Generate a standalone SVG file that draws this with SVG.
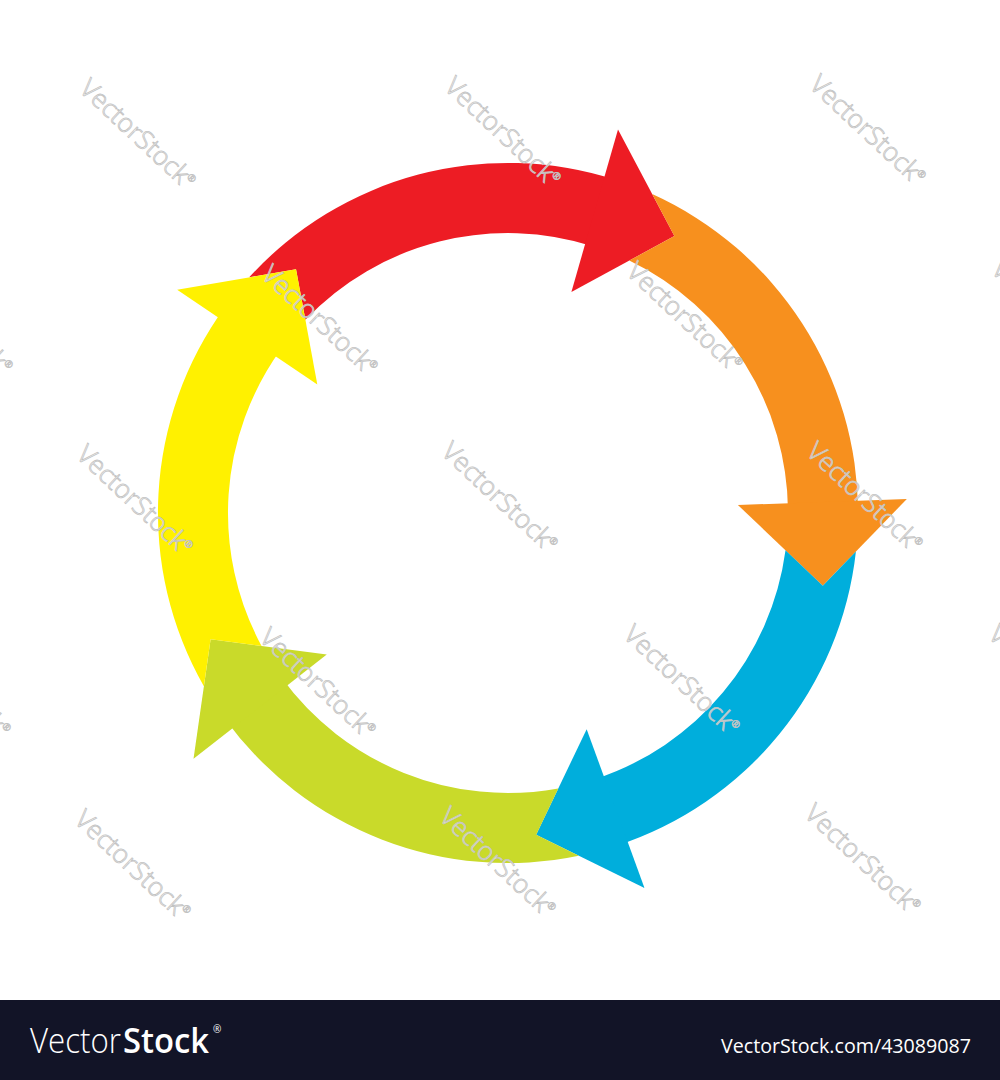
<svg xmlns="http://www.w3.org/2000/svg" width="1000" height="1080" viewBox="0 0 1000 1080">
<style>
.wm{font-family:"Open Sans","Liberation Sans",sans-serif;font-weight:300;font-size:26px;fill:#ffffff;fill-opacity:0.7;stroke:#c2c2c2;stroke-width:0.8;text-anchor:middle}
.wm tspan{font-size:10px}
.red{fill:#ED1C24}.orange{fill:#F7901E}.blue{fill:#00AEDC}.green{fill:#C9DA2A}.yellow{fill:#FFF100}
.bar{font-family:"Open Sans","Liberation Sans",sans-serif;fill:#ffffff}
</style>
<defs>
<path id="body" d="M249.2,277.3 A350,350 0 0 1 616.2,180.1 L594.5,246.7 A280,280 0 0 0 305.4,319.7 L296.0,269.2 Z"/>
<path id="head" d="M618.0,129.4 L674.4,236.1 L571.4,291.9 Z"/>
</defs>
<rect x="0" y="0" width="1000" height="1080" fill="#ffffff"/>
<g id="arrow-red" class="red">
<use href="#body"/><use href="#head"/>
</g>
<g id="arrow-orange" class="orange" transform="rotate(72 508 513)">
<use href="#body"/><use href="#head"/>
</g>
<g id="arrow-blue" class="blue" transform="rotate(144 508 513)">
<use href="#body"/><use href="#head"/>
</g>
<g id="arrow-green" class="green" transform="rotate(216 508 513)">
<use href="#body"/><use href="#head"/>
</g>
<g id="arrow-yellow" class="yellow" transform="rotate(288 508 513)">
<use href="#body"/><use href="#head"/>
</g>
<g id="connectors"></g>
<g id="watermarks">
<text class="wm" x="312" y="-52" dy="0.35em" transform="rotate(43 312 -52)">VectorStock<tspan dy="-10">®</tspan></text>
<text class="wm" x="677" y="-55" dy="0.35em" transform="rotate(43 677 -55)">VectorStock<tspan dy="-10">®</tspan></text>
<text class="wm" x="138" y="134" dy="0.35em" transform="rotate(43 138 134)">VectorStock<tspan dy="-10">®</tspan></text>
<text class="wm" x="503" y="132" dy="0.35em" transform="rotate(43 503 132)">VectorStock<tspan dy="-10">®</tspan></text>
<text class="wm" x="868" y="130" dy="0.35em" transform="rotate(43 868 130)">VectorStock<tspan dy="-10">®</tspan></text>
<text class="wm" x="-45" y="320" dy="0.35em" transform="rotate(43 -45 320)">VectorStock<tspan dy="-10">®</tspan></text>
<text class="wm" x="320" y="320" dy="0.35em" transform="rotate(43 320 320)">VectorStock<tspan dy="-10">®</tspan></text>
<text class="wm" x="685" y="317" dy="0.35em" transform="rotate(43 685 317)">VectorStock<tspan dy="-10">®</tspan></text>
<text class="wm" x="1050" y="315" dy="0.35em" transform="rotate(43 1050 315)">VectorStock<tspan dy="-10">®</tspan></text>
<text class="wm" x="135" y="500" dy="0.35em" transform="rotate(43 135 500)">VectorStock<tspan dy="-10">®</tspan></text>
<text class="wm" x="500" y="497" dy="0.35em" transform="rotate(43 500 497)">VectorStock<tspan dy="-10">®</tspan></text>
<text class="wm" x="865" y="497" dy="0.35em" transform="rotate(43 865 497)">VectorStock<tspan dy="-10">®</tspan></text>
<text class="wm" x="-47" y="683" dy="0.35em" transform="rotate(43 -47 683)">VectorStock<tspan dy="-10">®</tspan></text>
<text class="wm" x="318" y="683" dy="0.35em" transform="rotate(43 318 683)">VectorStock<tspan dy="-10">®</tspan></text>
<text class="wm" x="682" y="680" dy="0.35em" transform="rotate(43 682 680)">VectorStock<tspan dy="-10">®</tspan></text>
<text class="wm" x="1047" y="680" dy="0.35em" transform="rotate(43 1047 680)">VectorStock<tspan dy="-10">®</tspan></text>
<text class="wm" x="133" y="865" dy="0.35em" transform="rotate(43 133 865)">VectorStock<tspan dy="-10">®</tspan></text>
<text class="wm" x="498" y="862" dy="0.35em" transform="rotate(43 498 862)">VectorStock<tspan dy="-10">®</tspan></text>
<text class="wm" x="863" y="859" dy="0.35em" transform="rotate(43 863 859)">VectorStock<tspan dy="-10">®</tspan></text>
</g>
<g id="footer">
<rect x="0" y="1000" width="1000" height="80" fill="#121427"/>
<text class="bar" x="30" y="1053" font-size="35" font-weight="300" textLength="91" lengthAdjust="spacingAndGlyphs">Vector</text>
<text class="bar" x="123" y="1053" font-size="35" font-weight="600" textLength="86" lengthAdjust="spacingAndGlyphs">Stock</text>
<text class="bar" x="213" y="1033" font-size="10">®</text>
<text class="bar" x="721" y="1053" font-size="20" textLength="250" lengthAdjust="spacingAndGlyphs">VectorStock.com/43089087</text>
</g>
</svg>
